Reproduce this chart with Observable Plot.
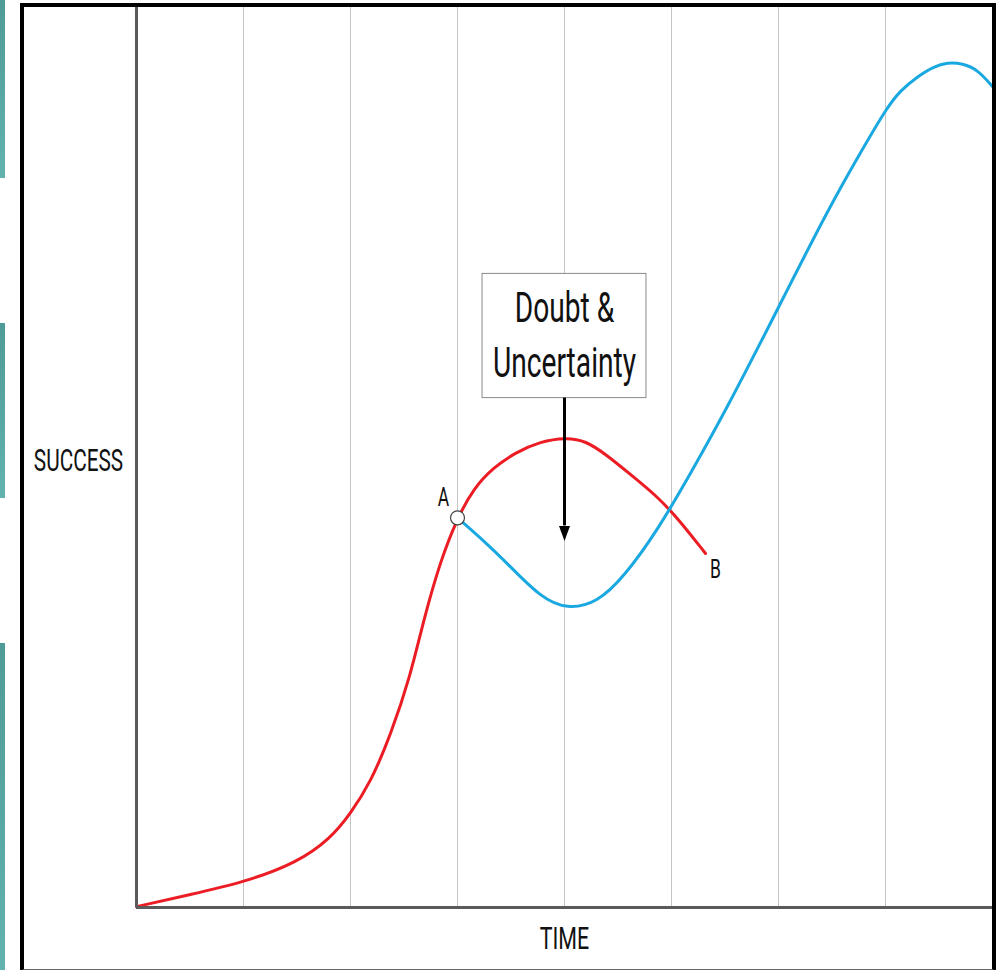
<!DOCTYPE html>
<html>
<head>
<meta charset="utf-8">
<script src="https://cdn.jsdelivr.net/npm/d3@7"></script>
<script src="https://cdn.jsdelivr.net/npm/@observablehq/plot@0.6"></script>
<style>
  html, body { margin: 0; padding: 0; background: #fff; }
  #wrap { position: relative; width: 1002px; height: 970px; overflow: hidden; background: #fff; }
  #wrap svg { position: absolute; left: 0; top: 0; }
  .teal { position: absolute; left: 0; width: 5px; background: linear-gradient(#4f9b97, #62b2b0); }
  #frame { position: absolute; left: 20px; top: 3px; width: 968px; height: 962px;
           border-left: 4px solid #000; border-top: 4px solid #000; border-right: 4px solid #000;
           border-bottom: 2px solid #666; pointer-events: none; }
</style>
</head>
<body>
<div id="wrap">
  <div class="teal" style="top:0;height:178px"></div>
  <div class="teal" style="top:323px;height:175px"></div>
  <div class="teal" style="top:643px;height:327px"></div>
  <div id="frame"></div>
</div>
<script>
// ---- data (time units = grid columns, success in 0..100) ----
const gridTimes = [1, 2, 3, 4, 5, 6, 7];

const redTime    = [0, 0.505, 1.0, 1.505, 1.813, 2.0, 2.187, 2.374, 2.561, 2.682, 2.841, 3.0, 3.15, 3.336, 3.542, 3.776, 4.009, 4.196, 4.402, 4.617, 4.869, 5.084, 5.318];
const redSuccess = [0.1, 1.44, 2.78, 5.0, 7.67, 10.44, 13.89, 19.11, 25.78, 31.89, 38.56, 43.3, 46.56, 48.89, 50.56, 51.78, 52.22, 51.89, 50.22, 48.11, 45.67, 42.89, 39.33];

const blueTime    = [3.0, 3.243, 3.467, 3.776, 4.028, 4.308, 4.551, 4.869, 5.178, 5.523, 6.0, 6.458, 6.766, 7.019, 7.140, 7.299, 7.449, 7.579, 7.720, 7.860, 8.0];
const blueSuccess = [43.3, 40.78, 38.22, 34.44, 33.11, 33.89, 36.67, 41.89, 48.22, 55.56, 66.67, 77.44, 83.89, 89.0, 90.78, 92.33, 93.44, 93.89, 93.78, 93.11, 91.22];

const pointA = [{t: 3.0, s: 43.3, label: "A"}];
const pointB = [{t: 5.318, s: 39.33, label: "B"}];

const calloutBox   = [{t1: 3.234, t2: 4.766, s1: 56.6, s2: 70.4}];
const calloutLines = [{t: 4.0, s: 66.6, text: "Doubt &"}, {t: 4.0, s: 60.4, text: "Uncertainty"}];
const calloutArrow = [{t: 4.0, from: 56.6, to: 42.4}];

const yLabel = "SUCCESS";
const xLabel = "TIME";

const red  = redTime.map((t, i) => ({t, s: redSuccess[i]}));
const blue = blueTime.map((t, i) => ({t, s: blueSuccess[i]}));

const FONT = "Roboto, 'Liberation Sans', sans-serif";

const svg = Plot.plot({
  width: 1002,
  height: 970,
  marginLeft: 136,
  marginRight: 10,
  marginTop: 7,
  marginBottom: 63,
  style: {background: "transparent", fontFamily: FONT},
  x: {domain: [0, 8], axis: null},
  y: {domain: [0, 100], axis: null},
  marks: [
    Plot.ruleX(gridTimes, {stroke: "#c4c4c4", strokeWidth: 1}),
    Plot.line(red,  {x: "t", y: "s", stroke: "#ec1c24", strokeWidth: 3, curve: "basis"}),
    Plot.line(blue, {x: "t", y: "s", stroke: "#1aa8e0", strokeWidth: 3, curve: "basis"}),
    Plot.ruleX([0], {stroke: "#5a5a5a", strokeWidth: 3}),
    Plot.ruleY([0], {stroke: "#5a5a5a", strokeWidth: 3}),
    Plot.dot(pointA, {x: "t", y: "s", r: 7, fill: "#fff", stroke: "#444", strokeWidth: 1.2}),
    Plot.text(pointA, {x: "t", y: "s", text: "label", dx: -14, dy: -20, fontSize: 26, fill: "#111"}),
    Plot.text(pointB, {x: "t", y: "s", text: "label", dx: 10, dy: 16, fontSize: 26, fill: "#111"}),
    Plot.rect(calloutBox, {x1: "t1", x2: "t2", y1: "s1", y2: "s2", fill: "#fff", stroke: "#8a8a8a", strokeWidth: 1}),
    Plot.text(calloutLines, {x: "t", y: "s", text: "text", fontSize: 42, fill: "#111"}),
    Plot.ruleX(calloutArrow, {x: "t", y1: "from", y2: "to", stroke: "#000", strokeWidth: 3}),
    Plot.vector(calloutArrow, {x: "t", y: "to", shape: "spike", anchor: "start", length: 15, r: 5.5, rotate: 180, fill: "#000", stroke: "none"}),
    Plot.text([yLabel], {frameAnchor: "left", textAnchor: "middle", dx: -58, dy: 4, fontSize: 31, fill: "#111"}),
    Plot.text([xLabel], {frameAnchor: "bottom", textAnchor: "middle", dy: 41, fontSize: 32, fill: "#111"})
  ]
});

const wrap = document.getElementById("wrap");
wrap.insertBefore(svg, document.getElementById("frame"));

// condensed lettering, as in the original artwork
d3.select(svg).selectAll("text").each(function () {
  const w = this.getComputedTextLength();
  this.setAttribute("textLength", (w * 0.67).toFixed(1));
  this.setAttribute("lengthAdjust", "spacingAndGlyphs");
});
</script>
</body>
</html>
